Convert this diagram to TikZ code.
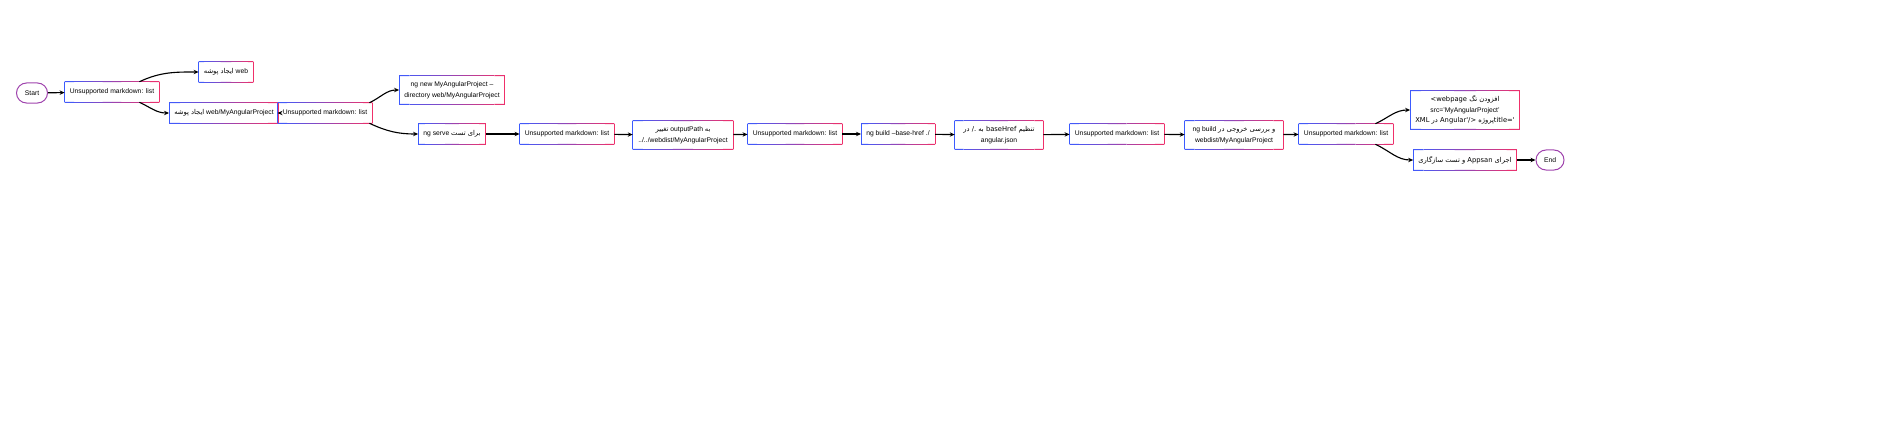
\documentclass[tikz,border=0pt]{standalone}
\usepackage{fontspec}
\setmainfont{Liberation Sans}
\newfontfamily\fafont[Script=Arabic]{DejaVu Sans}
\TeXXeTstate=1
\usetikzlibrary{arrows.meta,positioning,calc}
\definecolor{gblue}{HTML}{3B5BFF}
\definecolor{gpink}{HTML}{F0306A}
\newcommand{\fa}[1]{{\fafont\beginR #1\endR}}
\newcommand{\la}[1]{\beginL #1\endL}
\def\px{*0.25mm}
\tikzset{
  stepbox/.style={inner xsep=1.25mm, minimum height=5mm, align=center, font=\fontsize{4.8}{7.5}\selectfont},
  endbox/.style={stepbox, rounded corners=2.5mm, draw=gblue!45!gpink, line width=0.25mm},
  arr/.style={line width=0.28mm, -{Stealth[length=1.25mm,width=1.1mm]}},
}
% blue-to-pink border round a named node
\newcommand{\gframe}[1]{%
  \draw[gblue, line width=0.25mm] (#1.south west) -- (#1.north west);
  \draw[gpink, line width=0.25mm] (#1.south east) -- (#1.north east);
  \foreach \i [evaluate=\i as \j using int(\i*10+5)] in {0,...,9}{
    \draw[gpink!\j!gblue, line width=0.25mm]
      ($(#1.north west)!\i/10!(#1.north east)$) -- ($(#1.north west)!\i/10+0.1!(#1.north east)$)
      ($(#1.south west)!\i/10!(#1.south east)$) -- ($(#1.south west)!\i/10+0.1!(#1.south east)$);
  }}
\begin{document}
\begin{tikzpicture}[x=0.025cm, y=-0.025cm]
  \useasboundingbox (0,0) rectangle (1898,439);
  \node[endbox, minimum width=31\px] (start) at (32,93) {Start};
  \node[stepbox, minimum width=90\px] (list1) at (112,92) {Unsupported markdown: list};
  \node[stepbox, minimum width=51\px] (web) at (226,72) {\fa{ایجاد پوشه} web};
  \node[stepbox, minimum width=96\px] (webproj) at (224,113) {\fa{ایجاد پوشه} web/MyAngularProject};
  \node[stepbox, minimum width=64\px] (list2) at (325,113) {Unsupported markdown: list};
  \node[stepbox, minimum width=100\px, minimum height=28\px] (ngnew) at (452,90) {ng new MyAngularProject --\\directory web/MyAngularProject};
  \node[stepbox, minimum width=59\px] (serve) at (452,134) {ng serve \fa{برای تست}};
  \node[stepbox, minimum width=88\px] (list3) at (567,134) {Unsupported markdown: list};
  \node[stepbox, minimum width=100\px, minimum height=28\px] (outpath) at (683,135) {\fa{تغییر} outputPath \fa{به}\\../../webdist/MyAngularProject};
  \node[stepbox, minimum width=84\px] (list4) at (795,134) {Unsupported markdown: list};
  \node[stepbox, minimum width=71\px] (buildhref) at (898,134) {ng build --base-href ./};
  \node[stepbox, minimum width=88\px, minimum height=28\px] (basehref) at (999,135) {\fa{تنظیم \la{baseHref} به \la{./} در}\\angular.json};
  \node[stepbox, minimum width=82\px] (list5) at (1117,134) {Unsupported markdown: list};
  \node[stepbox, minimum width=98\px, minimum height=28\px] (build) at (1234,135) {ng build \fa{و بررسی خروجی در}\\webdist/MyAngularProject};
  \node[stepbox, minimum width=83\px] (list6) at (1346,134) {Unsupported markdown: list};
  \node[stepbox, minimum width=100\px, minimum height=37\px] (webpage) at (1465,110) {\fa{افزودن تگ \la{<webpage}}\\src='MyAngularProject'\\\fa{\la{title='}پروژه \la{Angular'/>} در \la{XML}}};
  \node[stepbox, minimum width=84\px] (appsan) at (1465,160) {\fa{اجرای \la{Appsan} و تست سازگاری}};
  \node[endbox, minimum width=28\px] (end) at (1550,160) {End};

  \foreach \n in {list1,web,webproj,list2,ngnew,serve,list3,outpath,list4,buildhref,basehref,list5,build,list6,webpage,appsan}
    {\gframe{\n}}

  \draw[arr] (start) -- (list1);
  \draw[arr] ([xshift=-20\px]list1.north east) to[out=25,in=180] (web.west);
  \draw[arr] ([xshift=-20\px]list1.south east) to[out=-25,in=180] (webproj.west);
  \draw[arr] (webproj) -- (list2);
  \draw[arr] ([xshift=-3\px]list2.north east) to[out=25,in=180] (ngnew.west);
  \draw[arr] ([xshift=-3\px]list2.south east) to[out=-25,in=180] (serve.west);
  \draw[arr] (serve) -- (list3);
  \draw[arr] (list3) -- (outpath);
  \draw[arr] (outpath) -- (list4);
  \draw[arr] (list4) -- (buildhref);
  \draw[arr] (buildhref) -- (basehref);
  \draw[arr] (basehref) -- (list5);
  \draw[arr] (list5) -- (build);
  \draw[arr] (build) -- (list6);
  \draw[arr] ([xshift=-18\px]list6.north east) to[out=25,in=180] (webpage.west);
  \draw[arr] ([xshift=-18\px]list6.south east) to[out=-25,in=180] (appsan.west);
  \draw[arr] (appsan) -- (end);
\end{tikzpicture}
\end{document}
